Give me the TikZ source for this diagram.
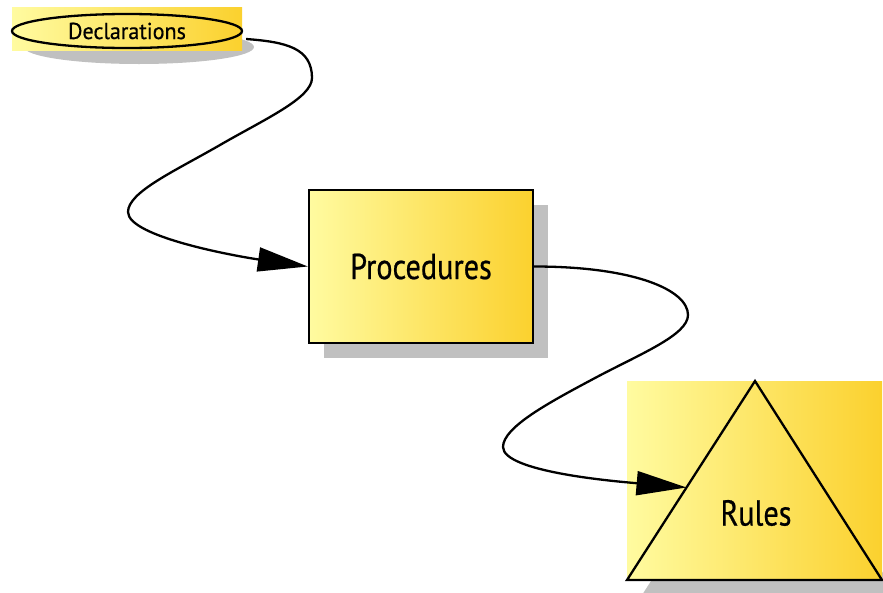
\documentclass[tikz,border=0pt]{standalone}
\usepackage{fontspec}
\setmainfont{PT Sans}
\newfontfamily\bigfont{PT Sans}[FakeStretch=0.84, FakeBold=0.6]
\newfontfamily\smallfont{PT Sans}[FakeStretch=0.96, FakeBold=0.6]
\usetikzlibrary{arrows.meta,calc,shapes.geometric}
\definecolor{goldL}{RGB}{255,251,160}
\definecolor{goldR}{RGB}{251,209,46}
\definecolor{shadegray}{RGB}{192,192,192}
\tikzset{
  goldfill/.style={left color=goldL, right color=goldR},
  outline/.style={draw=black, line width=2.3pt},
  shadowfill/.style={fill=shadegray, draw=none},
  flow/.style={line width=2.3pt, -{Triangle[length=50pt,width=24pt]}},
  biglabel/.style={font=\bigfont\fontsize{36}{40}\selectfont},
}
\begin{document}
\begin{tikzpicture}[x=1pt,y=-1pt]
\clip (0,0) rectangle (883,592);

% Declarations: ellipse on a gold panel
\fill[shadowfill] (139,47) ellipse [x radius=115, y radius=17];
\shade[goldfill] (12,7) rectangle (242,50);
\node[outline, ellipse, minimum width=230pt, minimum height=34pt, inner sep=0pt,
      font=\smallfont\fontsize{23}{26}\selectfont] (decl) at (127,31) {Declarations};

% Procedures: box with offset shadow
\fill[shadowfill] (324,205) rectangle (548,358);
\node[outline, goldfill, minimum width=224pt, minimum height=153pt, inner sep=0pt,
      biglabel] (proc) at (421,266.5) {Procedures};

% Rules: triangle on a gold panel
\fill[shadowfill] (770,396) -- (642,595) -- (897,595) -- cycle;
\shade[goldfill] (627,381) rectangle (882,580);
\draw[outline, line join=miter] (755,381) coordinate (rtop) -- (627,580) coordinate (rleft)
      -- (882,580) coordinate (rright) -- cycle;
\node[biglabel] (rules) at (756,513) {Rules};
\coordinate (rin) at ($(rtop)!0.535!(rleft)$);

% Connectors
\draw[flow] ($(decl.east)+(3,8)$) .. controls +(40,3) and +(0,-30) .. (312,78)
  .. controls +(0,20) and +(45,-26) .. (220,145)
  .. controls +(-45,26) and +(0,-20) .. (128,212)
  .. controls +(0,25) and +(-70,-10) .. (proc.west);
\draw[flow] (proc.east) .. controls +(100,0) and +(0,-25) .. (688,315)
  .. controls +(0,20) and +(45,-24) .. (595,378)
  .. controls +(-45,24) and +(0,-20) .. (503,447)
  .. controls +(0,25) and +(-70,-6) .. (rin);
\end{tikzpicture}
\end{document}
